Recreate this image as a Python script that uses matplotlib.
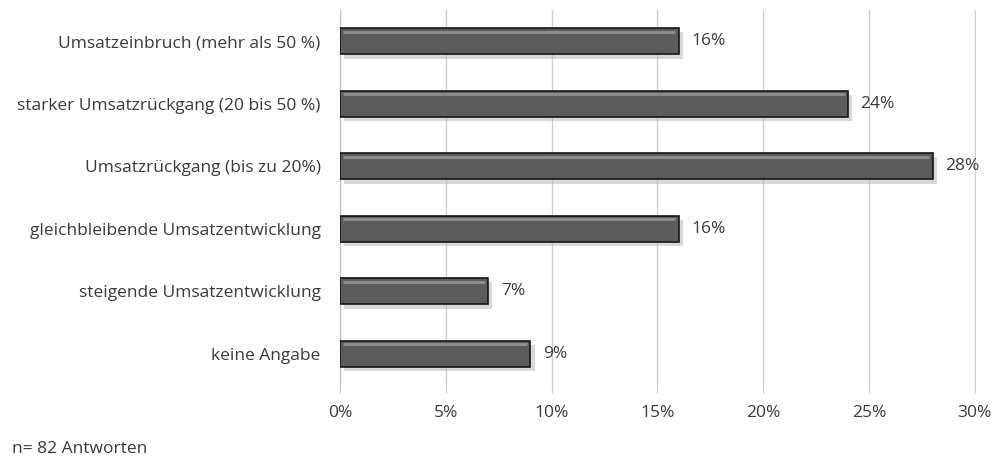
import matplotlib.pyplot as plt
import matplotlib.patheffects as pe

categories = ["Umsatzeinbruch (mehr als 50 %)",
              "starker Umsatzrückgang (20 bis 50 %)",
              "Umsatzrückgang (bis zu 20%)",
              "gleichbleibende Umsatzentwicklung",
              "steigende Umsatzentwicklung",
              "keine Angabe"]
values = [16, 24, 28, 16, 7, 9]
xticks = [0, 5, 10, 15, 20, 25, 30]

plt.rcParams['font.family'] = ['Open Sans', 'DejaVu Sans']

fig = plt.figure(figsize=(10.04, 4.59), dpi=100)
ax = fig.add_axes([0.3386, 0.161, 0.6334, 0.817])

y = list(range(len(categories)))[::-1]
bars = ax.barh(y, values, height=0.42, color='#5c5c5c', edgecolor='#151515',
               linewidth=1.2, zorder=3)
for b in bars:
    b.set_path_effects([pe.SimplePatchShadow(offset=(3, -3), shadow_rgbFace='#aaaaaa', alpha=0.45),
                        pe.Normal()])
    # light bevel on top
    ax.plot([b.get_x() + 0.15, b.get_width() - 0.15],
            [b.get_y() + b.get_height() * 0.86] * 2,
            color='#8f8f8f', lw=2, zorder=4, solid_capstyle='butt')

for yi, v in zip(y, values):
    ax.text(v + 0.6, yi, f"{v}%", va='center', ha='left', fontsize=12.5, color='#3a3a3a')

ax.set_xlim(0, 30.05)
ax.set_ylim(-0.5, len(categories) - 0.5)
ax.set_xticks(xticks)
ax.set_xticklabels([f"{t}%" for t in xticks], fontsize=12.5, color='#3a3a3a')
ax.set_yticks(y)
ax.set_yticklabels(categories, fontsize=12.5, color='#3a3a3a')
ax.tick_params(axis='y', length=0, pad=14)
ax.tick_params(axis='x', length=6, color='#c8c8c8', pad=8)
ax.grid(axis='x', color='#cfcfcf', lw=1, zorder=0)
for s in ['top', 'right', 'bottom']:
    ax.spines[s].set_visible(False)
ax.spines['left'].set_color('#bfbfbf')

fig.text(0.012, 0.012, "n= 82 Antworten", fontsize=12.5, color='#3a3a3a')

fig.savefig("out.png", dpi=100)
